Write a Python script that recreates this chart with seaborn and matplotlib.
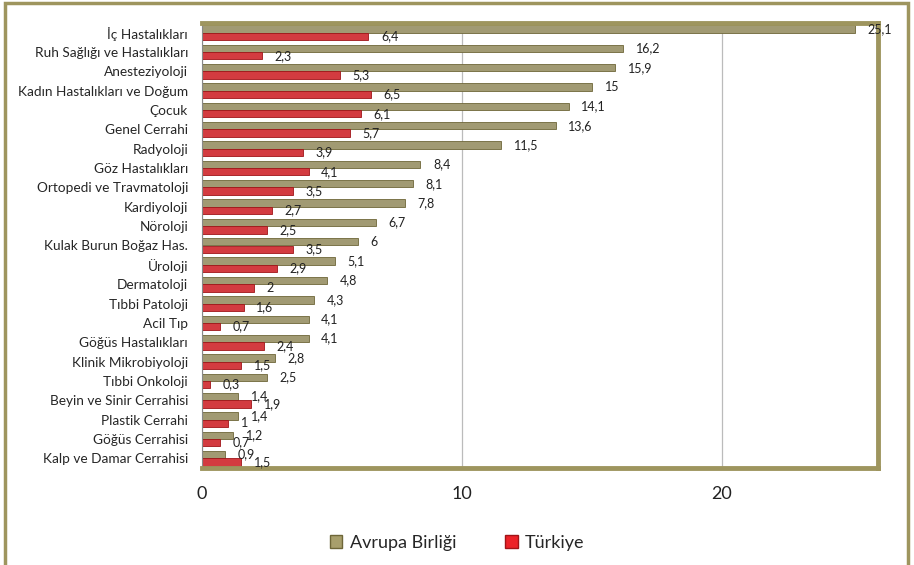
import pandas as pd
import matplotlib.pyplot as plt
import seaborn as sns
from matplotlib.patches import Patch, Rectangle

# Uzmanlık alanları ve değerler
categories = ["İç Hastalıkları", "Ruh Sağlığı ve Hastalıkları", "Anesteziyoloji",
              "Kadın Hastalıkları ve Doğum", "Çocuk", "Genel Cerrahi", "Radyoloji",
              "Göz Hastalıkları", "Ortopedi ve Travmatoloji", "Kardiyoloji", "Nöroloji",
              "Kulak Burun Boğaz Has.", "Üroloji", "Dermatoloji", "Tıbbi Patoloji",
              "Acil Tıp", "Göğüs Hastalıkları", "Klinik Mikrobiyoloji", "Tıbbi Onkoloji",
              "Beyin ve Sinir Cerrahisi", "Plastik Cerrahi", "Göğüs Cerrahisi",
              "Kalp ve Damar Cerrahisi"]
eu_values = [25.1, 16.2, 15.9, 15, 14.1, 13.6, 11.5, 8.4, 8.1, 7.8, 6.7, 6, 5.1, 4.8,
             4.3, 4.1, 4.1, 2.8, 2.5, 1.4, 1.4, 1.2, 0.9]
tr_values = [6.4, 2.3, 5.3, 6.5, 6.1, 5.7, 3.9, 4.1, 3.5, 2.7, 2.5, 3.5, 2.9, 2, 1.6,
             0.7, 2.4, 1.5, 0.3, 1.9, 1, 0.7, 1.5]
series = ["Avrupa Birliği", "Türkiye"]
x_ticks = [0, 10, 20]

olive = "#A89F6C"
red = "#EC2228"
frame = "#9E955E"

df = pd.DataFrame({
    "category": categories * 2,
    "value": eu_values + tr_values,
    "series": [series[0]] * len(categories) + [series[1]] * len(categories),
})

sns.set_style("white")
plt.rcParams["font.family"] = ["Lato", "DejaVu Sans"]

fig = plt.figure(figsize=(9.14, 5.65), dpi=100)
ax = fig.add_axes([202 / 914, 1 - 468 / 565, 676 / 914, 445 / 565])

sns.barplot(data=df, x="value", y="category", hue="series", order=categories,
            hue_order=series, palette=[olive, red], orient="h", width=0.76,
            ax=ax, legend=False, linewidth=0.6,
            edgecolor="#6E6638")
for bar in ax.containers[1]:
    bar.set_edgecolor("#A01418")

# Etiketler (virgüllü)
for cont, vals in zip(ax.containers, [eu_values, tr_values]):
    labs = [f"{v:g}".replace(".", ",") for v in vals]
    ax.bar_label(cont, labels=labs, padding=9, fontsize=9, color="#222222")

ax.set_xlim(0, 26)
ax.set_ylim(len(categories) - 0.5, -0.5)
ax.set_xticks(x_ticks)
ax.set_xticklabels([str(t) for t in x_ticks], fontsize=13, color="#222222")
ax.tick_params(axis="x", length=5, color="#BBBBBB", width=0.9, pad=8)
ax.tick_params(axis="y", which="major", length=0, labelsize=9.8, pad=10)
ax.set_yticks([i - 0.5 for i in range(len(categories) + 1)], minor=True)
ax.tick_params(axis="y", which="minor", length=5, color="#888888", width=0.8)
ax.set_xlabel("")
ax.set_ylabel("")
ax.grid(axis="x", color="#BBBBBB", linewidth=0.9)
ax.set_axisbelow(True)

for side in ["top", "right", "bottom"]:
    ax.spines[side].set_color(frame)
    ax.spines[side].set_linewidth(3.5)
ax.spines["left"].set_color("#888888")
ax.spines["left"].set_linewidth(0.8)

# Dış çerçeve
fig.patches.append(Rectangle((5 / 914, -0.02), 903 / 914, 1.02 - 3 / 565,
                             transform=fig.transFigure, fill=False,
                             edgecolor=frame, linewidth=2.5))

handles = [Patch(facecolor=olive, edgecolor="#6E6638"), Patch(facecolor=red, edgecolor="#A01418")]
fig.legend(handles, series, loc="center", bbox_to_anchor=(0.5, 1 - 543 / 565), ncol=2,
           frameon=False, fontsize=13, handlelength=0.7, handleheight=0.7,
           columnspacing=2.7, handletextpad=0.4)

fig.savefig("out.png", dpi=100)
